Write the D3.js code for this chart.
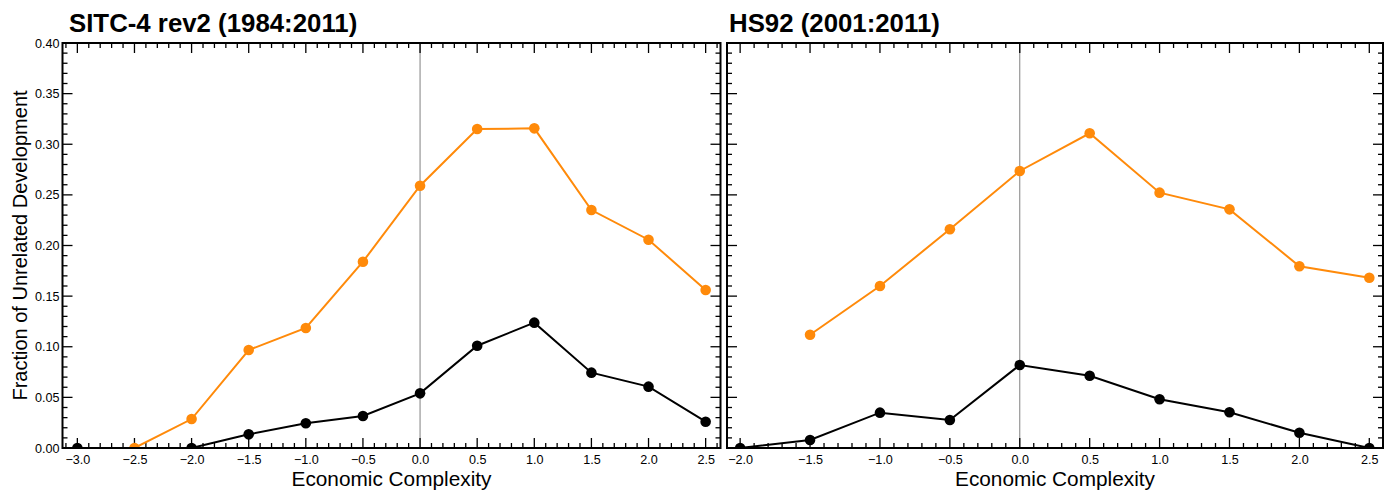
<!DOCTYPE html>
<html>
<head>
<meta charset="utf-8">
<script src="https://cdn.jsdelivr.net/npm/d3@7"></script>
<style>
  html, body { margin: 0; padding: 0; background: #fff; }
  svg { display: block; font-family: "Liberation Sans", Arial, Helvetica, sans-serif; }
</style>
</head>
<body>
<svg id="chart" width="1392" height="490"></svg>
<script>
// Economic complexity bins (x) for each classification
const sitcComplexity = [-3.0, -2.5, -2.0, -1.5, -1.0, -0.5, 0.0, 0.5, 1.0, 1.5, 2.0, 2.5];
const sitcBlack  = [0, null, 0, 0.0135, 0.0244, 0.0316, 0.054, 0.101, 0.1238, 0.0744, 0.0606, 0.026];
const sitcOrange = [null, 0, 0.0286, 0.0968, 0.1185, 0.184, 0.259, 0.315, 0.3157, 0.235, 0.2057, 0.156];

const hsComplexity = [-2.0, -1.5, -1.0, -0.5, 0.0, 0.5, 1.0, 1.5, 2.0, 2.5];
const hsBlack  = [0, 0.0079, 0.0349, 0.0277, 0.082, 0.0714, 0.0481, 0.0353, 0.0151, 0];
const hsOrange = [null, 0.1119, 0.16, 0.216, 0.2736, 0.3108, 0.2522, 0.2357, 0.1795, 0.1682];

const panelTitles = ["SITC-4 rev2 (1984:2011)", "HS92 (2001:2011)"];
const xAxisTitle = "Economic Complexity";
const yAxisTitle = "Fraction of Unrelated Development";
const yTickValues = [0.00, 0.05, 0.10, 0.15, 0.20, 0.25, 0.30, 0.35, 0.40];

const svg = d3.select("#chart");
const ORANGE = "#ff8a0a";

const panels = [
  { id: "sitc", title: panelTitles[0], xs: sitcComplexity, series: [sitcBlack, sitcOrange],
    domain: [-3.13, 2.63], range: [62.5, 720.5], majors: d3.range(-3.0, 2.51, 0.5), yLabels: true, titleX: 69 },
  { id: "hs", title: panelTitles[1], xs: hsComplexity, series: [hsBlack, hsOrange],
    domain: [-2.094, 2.598], range: [727, 1383], majors: d3.range(-2.0, 2.51, 0.5), yLabels: false, titleX: 729 }
];

const plotTop = 43, plotBottom = 448;
const y = d3.scaleLinear().domain([0, 0.40]).range([plotBottom, plotTop]);
const fmtX = d3.format(".1f");
const fmtY = d3.format(".2f");
const MAJOR = 10, MINOR = 5;
const TICK_FONT = 12.6;

panels.forEach(p => {
  const x = d3.scaleLinear().domain(p.domain).range(p.range);
  const g = svg.append("g");
  const [x0, x1] = p.range;

  // clip so markers at zero are cut by the frame
  svg.append("clipPath").attr("id", "clip-" + p.id)
    .append("rect").attr("x", x0).attr("y", plotTop).attr("width", x1 - x0).attr("height", plotBottom - plotTop);

  const minorX = d3.range(Math.ceil(p.domain[0] * 10), Math.floor(p.domain[1] * 10) + 1)
    .map(v => v / 10).filter(v => Math.abs(Math.round(v * 2) - v * 2) > 1e-6);
  const minorY = d3.range(0, 41).map(v => v / 100).filter(v => Math.round(v * 100) % 5 !== 0);

  // zero reference line
  g.append("line")
    .attr("x1", x(0)).attr("x2", x(0)).attr("y1", plotTop).attr("y2", plotBottom)
    .attr("stroke", "#808080").attr("stroke-width", 1);

  // inward tick marks on all four sides
  const tickG = g.append("g").attr("stroke", "#000").attr("stroke-width", 1.3);
  const addXTicks = (vals, len) => {
    vals.forEach(v => {
      tickG.append("line").attr("x1", x(v)).attr("x2", x(v)).attr("y1", plotBottom).attr("y2", plotBottom - len);
      tickG.append("line").attr("x1", x(v)).attr("x2", x(v)).attr("y1", plotTop).attr("y2", plotTop + len);
    });
  };
  const addYTicks = (vals, len) => {
    vals.forEach(v => {
      tickG.append("line").attr("x1", x0).attr("x2", x0 + len).attr("y1", y(v)).attr("y2", y(v));
      tickG.append("line").attr("x1", x1).attr("x2", x1 - len).attr("y1", y(v)).attr("y2", y(v));
    });
  };
  addXTicks(p.majors, MAJOR);
  addXTicks(minorX, MINOR);
  addYTicks(yTickValues, MAJOR);
  addYTicks(minorY, MINOR);

  // bottom axis labels
  const xAxis = d3.axisBottom(x).tickValues(p.majors).tickFormat(fmtX).tickSize(0).tickPadding(0);
  const xg = g.append("g").attr("transform", `translate(0,${plotBottom})`).call(xAxis);
  xg.select(".domain").remove();
  xg.selectAll("text").attr("dy", null).attr("y", 16).attr("font-size", TICK_FONT)
    .attr("fill", "#000").attr("font-family", "Liberation Sans, Arial, sans-serif");

  if (p.yLabels) {
    const yAxis = d3.axisLeft(y).tickValues(yTickValues).tickFormat(fmtY).tickSize(0).tickPadding(3);
    const yg = g.append("g").attr("transform", `translate(${x0},0)`).call(yAxis);
    yg.select(".domain").remove();
    yg.selectAll("text").attr("font-size", TICK_FONT).attr("fill", "#000")
      .attr("font-family", "Liberation Sans, Arial, sans-serif");
  }

  // series: black first, orange on top
  const colors = ["#000", ORANGE];
  const plotG = g.append("g").attr("clip-path", `url(#clip-${p.id})`);
  p.series.forEach((vals, i) => {
    const pts = p.xs.map((xv, k) => ({ x: xv, y: vals[k] }));
    const line = d3.line().defined(d => d.y !== null).x(d => x(d.x)).y(d => y(d.y));
    plotG.append("path").datum(pts)
      .attr("d", line).attr("fill", "none")
      .attr("stroke", colors[i]).attr("stroke-width", 2);
    plotG.selectAll(null).data(pts.filter(d => d.y !== null)).enter()
      .append("circle")
      .attr("cx", d => x(d.x)).attr("cy", d => y(d.y)).attr("r", 5.3)
      .attr("fill", colors[i]);
  });

  // frame
  g.append("rect").attr("x", x0).attr("y", plotTop).attr("width", x1 - x0).attr("height", plotBottom - plotTop)
    .attr("fill", "none").attr("stroke", "#000").attr("stroke-width", 2);

  // titles
  g.append("text").attr("x", p.titleX).attr("y", 32).attr("font-size", 25.8).attr("font-weight", "bold")
    .attr("fill", "#000").text(p.title);
  g.append("text").attr("x", (x0 + x1) / 2).attr("y", 486).attr("text-anchor", "middle")
    .attr("font-size", 20.8).attr("fill", "#000").text(xAxisTitle);
});

// shared y-axis title
svg.append("text")
  .attr("transform", `translate(27,${(plotTop + plotBottom) / 2}) rotate(-90)`)
  .attr("text-anchor", "middle").attr("font-size", 20).attr("fill", "#000")
  .text(yAxisTitle);
</script>
</body>
</html>
